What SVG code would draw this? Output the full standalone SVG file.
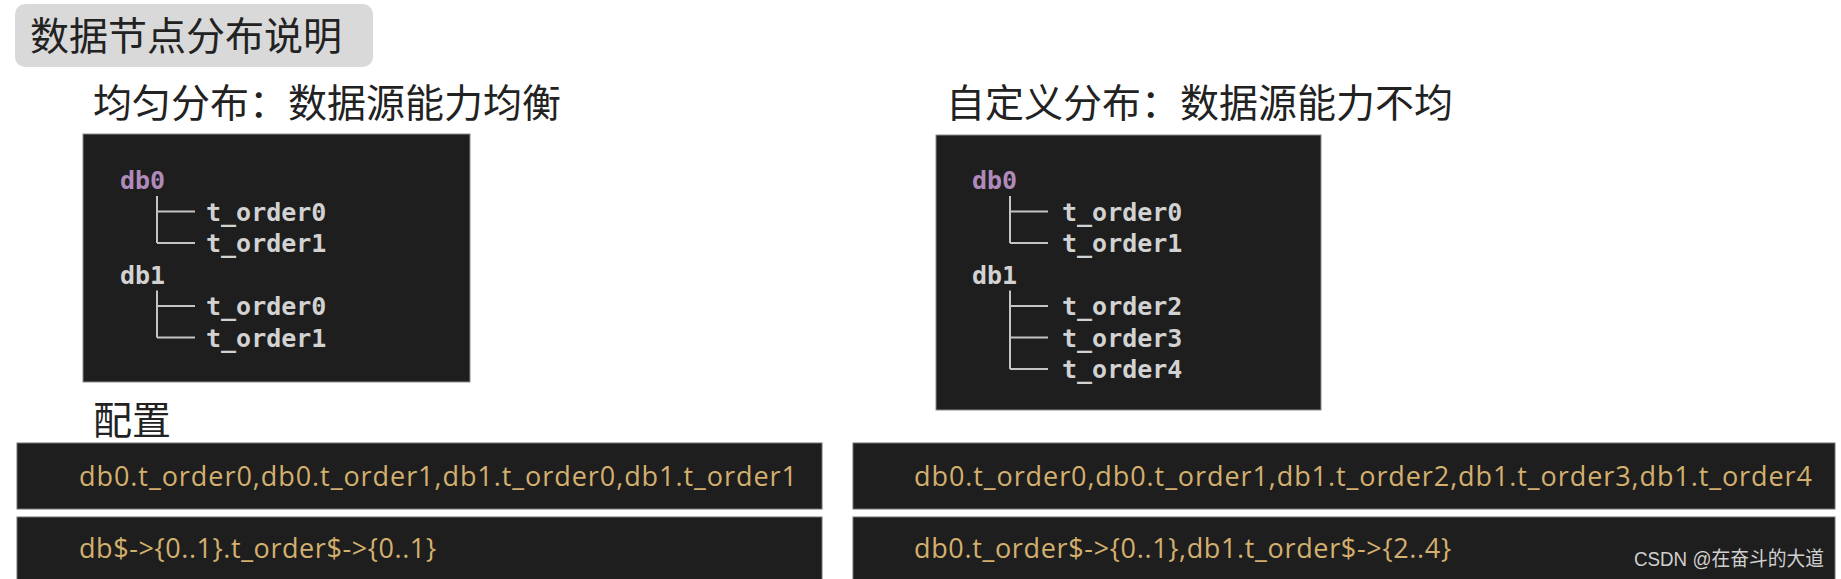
<svg xmlns="http://www.w3.org/2000/svg" width="1841" height="579" viewBox="0 0 1841 579">
<style>
.cjk{font-family:"Noto Sans CJK SC","Noto Sans",sans-serif;font-size:39px;fill:#222}
.box{fill:#1e1e1e;stroke:#8a8a8a;stroke-width:1}
.mono{font-family:"DejaVu Sans Mono","Liberation Mono",monospace;font-size:25px;font-weight:bold;fill:#d2d2d2}
.db0{fill:#b08abb}
.tree{stroke:#c4c4c4;stroke-width:2;fill:none}
.bar{fill:#1e1e1e;stroke:#707070;stroke-width:1}
.cfg{font-family:"Open Sans","Liberation Sans",sans-serif;font-size:27px;fill:#d4b06e}
.wm{font-family:"Liberation Sans","Noto Sans CJK SC",sans-serif;font-size:20px;fill:#cfcfcf}
</style>
<rect width="1841" height="579" fill="#ffffff"/>
<g id="title">
  <rect x="15" y="4" width="358" height="63" rx="10" fill="#d9d9d9"/>
  <text class="cjk" x="30" y="50" fill="#2a2a2a">数据节点分布说明</text>
</g>
<g id="heading-even">
  <text class="cjk" x="93" y="117">均匀分布：数据源能力均衡</text>
</g>
<g id="heading-custom">
  <text class="cjk" x="946" y="117">自定义分布：数据源能力不均</text>
</g>
<g id="panel-even">
  <rect class="box" x="83" y="134" width="387" height="248"/>
  <g id="even-db0"><text class="mono db0" x="120" y="189">db0</text></g>
  <g id="even-db0-t0"><text class="mono" x="206" y="220.5">t_order0</text></g>
  <g id="even-db0-t1"><text class="mono" x="206" y="252">t_order1</text></g>
  <g id="even-db1"><text class="mono" x="120" y="283.5">db1</text></g>
  <g id="even-db1-t0"><text class="mono" x="206" y="315">t_order0</text></g>
  <g id="even-db1-t1"><text class="mono" x="206" y="346.5">t_order1</text></g>
</g>
<g id="panel-custom">
  <rect class="box" x="936" y="135" width="385" height="275"/>
  <g id="custom-db0"><text class="mono db0" x="972" y="189">db0</text></g>
  <g id="custom-db0-t0"><text class="mono" x="1062" y="220.5">t_order0</text></g>
  <g id="custom-db0-t1"><text class="mono" x="1062" y="252">t_order1</text></g>
  <g id="custom-db1"><text class="mono" x="972" y="283.5">db1</text></g>
  <g id="custom-db1-t2"><text class="mono" x="1062" y="315">t_order2</text></g>
  <g id="custom-db1-t3"><text class="mono" x="1062" y="346.5">t_order3</text></g>
  <g id="custom-db1-t4"><text class="mono" x="1062" y="378">t_order4</text></g>
</g>
<g id="connectors">
  <path class="tree" d="M157 196V243M157 211.5H195M157 243H195M157 290.5V337.5M157 306H195M157 337.5H195"/>
  <path class="tree" d="M1010 196V243M1010 211.5H1048M1010 243H1048M1010 290.5V369M1010 306H1048M1010 337.5H1048M1010 369H1048"/>
</g>
<g id="config-label">
  <text class="cjk" x="93" y="434">配置</text>
</g>
<g id="config-even-list">
  <rect class="bar" x="17" y="443" width="805" height="66"/>
  <text class="cfg" x="79" y="486" textLength="718" lengthAdjust="spacing">db0.t_order0,db0.t_order1,db1.t_order0,db1.t_order1</text>
</g>
<g id="config-even-expr">
  <rect class="bar" x="17" y="517" width="805" height="70"/>
  <text class="cfg" x="79" y="558" textLength="357" lengthAdjust="spacing">db$-&gt;{0..1}.t_order$-&gt;{0..1}</text>
</g>
<g id="config-custom-list">
  <rect class="bar" x="853" y="443" width="982" height="66"/>
  <text class="cfg" x="914" y="486" textLength="898" lengthAdjust="spacing">db0.t_order0,db0.t_order1,db1.t_order2,db1.t_order3,db1.t_order4</text>
</g>
<g id="config-custom-expr">
  <rect class="bar" x="853" y="517" width="982" height="70"/>
  <text class="cfg" x="914" y="558" textLength="537" lengthAdjust="spacing">db0.t_order$-&gt;{0..1},db1.t_order$-&gt;{2..4}</text>
</g>
<g id="watermark">
  <text class="wm" x="1634" y="566" textLength="190" lengthAdjust="spacingAndGlyphs">CSDN @在奋斗的大道</text>
</g>
</svg>
